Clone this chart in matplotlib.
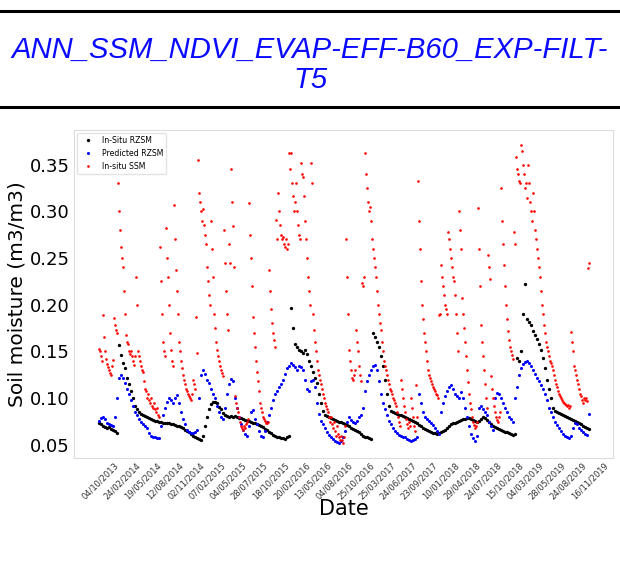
import matplotlib.pyplot as plt
import numpy as np
from matplotlib.lines import Line2D

# x axis is the sample (day) index of the series, labelled with dates
tick_labels = ['04/10/2013', '24/02/2014', '19/05/2014', '12/08/2014', '02/11/2014',
               '07/02/2015', '04/05/2015', '28/07/2015', '18/10/2015', '20/02/2016',
               '13/05/2016', '04/08/2016', '25/10/2016', '25/03/2017', '24/06/2017',
               '23/09/2017', '10/01/2018', '29/04/2018', '24/07/2018', '15/10/2018',
               '04/03/2019', '28/05/2019', '24/08/2019', '16/11/2019']
first_tick = 64
tick_step = 85

# In-situ RZSM, one value every 8 samples
rzsm_insitu = [
    .073, .072, .070, .069, .068, .069, .067, .066, .065, .063,
    .157, .146, .138, .132, .122, .115, .108, .100, .092, .088,
    .085, .083, .082, .081, .080, .079, .078, .077, .076, .076,
    .075, .075, .074, .074, .073, .073, .072, .072, .071, .070,
    .070, .069, .068, .066, .065, .064, .062, .060, .058, .057,
    .056, .055, .060, .070, .080, .088, .094, .096, .096, .095,
    .091, .088, .084, .082, .081, .080, .081, .080, .081, .080,
    .079, .079, .078, .077, .076, .076, .075, .074, .073, .072,
    .071, .070, .069, .067, .066, .064, .063, .061, .060, .059,
    .058, .057, .057, .056, .058, .060, .196, .175, .158, .155,
    .152, .150, .148, .152, .147, .140, .135, .128, .122, .116,
    .105, .095, .086, .082, .081, .080, .079, .078, .077, .076,
    .075, .075, .073, .072, .071, .070, .068, .067, .066, .065,
    .064, .062, .060, .059, .058, .057, .056, .170, .165, .160,
    .155, .145, .135, .120, .105, .092, .086, .085, .084, .083,
    .082, .082, .081, .080, .079, .078, .077, .076, .075, .073,
    .071, .070, .068, .067, .066, .065, .064, .063, .063, .062,
    .063, .064, .065, .066, .068, .070, .072, .073, .074, .075,
    .076, .077, .078, .078, .079, .079, .078, .077, .076, .075,
    .076, .078, .080, .079, .077, .075, .072, .070, .069, .068,
    .067, .066, .065, .064, .064, .063, .062, .061, .062, .143,
    .140, .150, .190, .222, .185, .182, .178, .172, .168, .163,
    .158, .152, .143, .132, .120, .110, .100, .090, .086, .085,
    .084, .083, .082, .081, .080, .079, .078, .077, .076, .075,
    .073, .072, .070, .069, .068, .067]

# Predicted RZSM, one value every 8 samples
rzsm_pred = [
    .076, .079, .080, .078, .074, .072, .071, .070, .080, .100,
    .122, .125, .122, .116, .110, .104, .098, .092, .085, .082,
    .078, .075, .072, .070, .068, .063, .060, .059, .058, .057,
    .057, .070, .082, .090, .096, .100, .098, .095, .100, .103,
    .095, .085, .078, .072, .066, .064, .063, .063, .064, .066,
    .100, .125, .130, .126, .120, .116, .110, .105, .100, .092,
    .085, .080, .078, .090, .105, .115, .121, .118, .100, .090,
    .080, .072, .066, .062, .060, .070, .085, .087, .078, .072,
    .065, .060, .059, .065, .075, .082, .090, .098, .104, .108,
    .112, .115, .120, .126, .132, .135, .138, .136, .133, .130,
    .135, .133, .130, .120, .110, .108, .118, .120, .112, .095,
    .083, .076, .072, .068, .064, .061, .058, .056, .054, .053,
    .052, .054, .058, .065, .075, .080, .077, .075, .073, .076,
    .080, .082, .090, .108, .118, .125, .130, .135, .136, .130,
    .118, .105, .095, .088, .082, .076, .072, .068, .065, .063,
    .061, .060, .059, .058, .056, .055, .054, .055, .056, .058,
    .105, .095, .085, .080, .078, .076, .074, .071, .068, .065,
    .062, .085, .095, .102, .108, .112, .114, .110, .105, .102,
    .100, .107, .100, .090, .080, .070, .062, .057, .054, .060,
    .090, .092, .088, .085, .082, .075, .070, .066, .100, .106,
    .104, .100, .095, .090, .085, .080, .078, .075, .100, .112,
    .125, .132, .137, .139, .140, .138, .134, .130, .126, .122,
    .118, .114, .110, .105, .098, .090, .085, .080, .075, .071,
    .068, .065, .062, .060, .058, .057, .060, .068, .073, .072,
    .068, .066, .064, .062, .061, .083]

# In-situ SSM, one value every 4 samples
ssm_insitu = [
    .153, .150, .145, .140, .189, .165, .150, .142, .137, .133,
    .130, .127, .125, .135, .141, .186, .178, .173, .170, .330,
    .300, .280, .262, .250, .240, .215, .190, .168, .160, .158,
    .150, .147, .150, .145, .140, .136, .145, .230, .200, .150,
    .145, .140, .135, .130, .128, .118, .110, .108, .100, .105,
    .098, .095, .100, .092, .090, .095, .088, .085, .090, .082,
    .080, .262, .225, .190, .160, .150, .145, .282, .250, .230,
    .200, .170, .152, .140, .135, .307, .270, .237, .215, .190,
    .160, .150, .140, .132, .125, .120, .115, .110, .108, .105,
    .102, .100, .098, .105, .120, .115, .110, .187, .148, .355,
    .320, .310, .300, .290, .302, .285, .275, .265, .240, .225,
    .210, .200, .290, .260, .230, .190, .175, .160, .152, .145,
    .140, .135, .130, .127, .124, .280, .245, .215, .190, .173,
    .265, .245, .345, .310, .284, .240, .102, .095, .090, .085,
    .080, .075, .070, .068, .066, .070, .068, .072, .075, .078,
    .309, .275, .250, .220, .187, .170, .155, .140, .128, .118,
    .108, .095, .090, .085, .080, .078, .076, .074, .073, .075,
    .237, .215, .195, .180, .170, .162, .155, .291, .270, .320,
    .300, .285, .275, .270, .273, .265, .262, .270, .260, .265,
    .362, .345, .362, .330, .316, .300, .310, .330, .300, .285,
    .275, .270, .352, .340, .337, .316, .290, .270, .250, .230,
    .215, .200, .352, .330, .190, .173, .160, .150, .140, .130,
    .125, .120, .115, .110, .105, .100, .095, .092, .088, .085,
    .080, .075, .080, .072, .068, .075, .065, .060, .070, .062,
    .058, .055, .060, .055, .052, .058, .070, .270, .230, .190,
    .152, .140, .130, .122, .120, .125, .130, .173, .160, .150,
    .135, .125, .118, .223, .220, .230, .362, .340, .325, .310,
    .300, .305, .290, .270, .260, .250, .240, .230, .215, .200,
    .190, .180, .173, .160, .150, .140, .135, .130, .125, .120,
    .115, .110, .108, .105, .100, .098, .095, .092, .085, .080,
    .075, .070, .120, .110, .100, .092, .085, .078, .072, .068,
    .075, .070, .100, .090, .080, .070, .065, .114, .080, .332,
    .290, .260, .225, .200, .185, .170, .160, .150, .140, .130,
    .125, .122, .118, .115, .112, .110, .108, .105, .103, .100,
    .189, .190, .242, .230, .220, .210, .200, .195, .190, .278,
    .270, .260, .250, .240, .230, .225, .210, .190, .170, .150,
    .300, .280, .260, .207, .190, .175, .160, .145, .130, .117,
    .105, .095, .088, .080, .075, .071, .068, .070, .075, .303,
    .260, .220, .178, .160, .145, .130, .115, .100, .090, .253,
    .240, .228, .124, .110, .100, .092, .085, .080, .077, .075,
    .080, .085, .325, .290, .265, .242, .220, .200, .185, .172,
    .162, .155, .150, .146, .142, .278, .265, .358, .345, .340,
    .332, .330, .371, .365, .350, .340, .325, .330, .314, .350,
    .330, .310, .300, .290, .320, .300, .280, .270, .260, .250,
    .240, .230, .215, .200, .190, .178, .170, .160, .155, .150,
    .145, .140, .138, .135, .130, .125, .120, .115, .112, .108,
    .105, .102, .100, .098, .096, .095, .094, .093, .092, .093,
    .090, .092, .171, .160, .150, .135, .130, .125, .120, .115,
    .110, .105, .102, .098, .095, .100, .098, .100, .097, .239,
    .245]

x_rzsm = np.arange(len(rzsm_insitu)) * 8
x_pred = np.arange(len(rzsm_pred)) * 8
x_ssm = np.arange(len(ssm_insitu)) * 4

fig = plt.figure(figsize=(6.2, 5.7), dpi=100)

# report header: rules and title
for yy in [1 - 11 / 570, 1 - 107 / 570]:
    fig.add_artist(Line2D([0, 1], [yy, yy], color='black', lw=2.2,
                          transform=fig.transFigure))
title_font = dict(family='Liberation Sans', style='italic', size=21.1,
                  color='#0a0aff', ha='center', va='center')
fig.text(0.5, 1 - 50 / 570, 'ANN_SSM_NDVI_EVAP-EFF-B60_EXP-FILT-', **title_font)
fig.text(0.5, 1 - 80 / 570, 'T5', **title_font)

ax = fig.add_axes([74 / 620, 1 - 458 / 570, 539 / 620, 328 / 570])
ax.plot(x_rzsm, rzsm_insitu, 'o', color='black', ms=2.4, mew=0, label='In-Situ RZSM')
ax.plot(x_pred, rzsm_pred, 'o', color='blue', ms=2.2, mew=0, label='Predicted RZSM')
ax.plot(x_ssm, ssm_insitu, 'o', color='red', ms=1.9, mew=0, label='In-situ SSM')

ax.set_xticks(first_tick + tick_step * np.arange(len(tick_labels)))
ax.set_xticklabels(tick_labels, rotation=45, ha='right', rotation_mode='anchor',
                   fontsize=6, color='#333333')
ax.set_yticks([0.05, 0.10, 0.15, 0.20, 0.25, 0.30, 0.35])
ax.tick_params(axis='y', labelsize=13, length=0, pad=3)
ax.tick_params(axis='x', length=0, pad=2)
for sp in ax.spines.values():
    sp.set_color('#dddddd')

ax.set_ylabel('Soil moisture (m3/m3)', fontsize=14.5)
ax.yaxis.set_label_coords(-0.089, 0.5)
ax.set_xlabel('Date', fontsize=15)
ax.xaxis.set_label_coords(0.5, -0.125)

leg = ax.legend(loc='upper left', fontsize=5.6, markerscale=1.0, handletextpad=0.8,
                borderaxespad=0.4)
leg.get_frame().set_edgecolor('#dddddd')

plt.savefig('out.png', dpi=100)
